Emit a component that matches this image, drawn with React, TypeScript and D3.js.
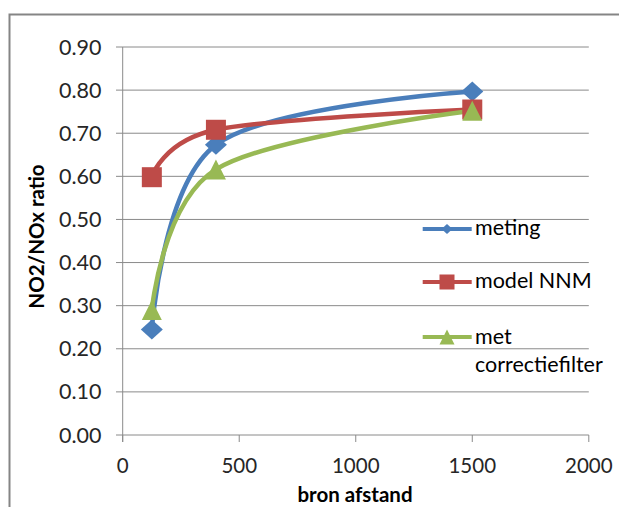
import React from "react";
import * as d3 from "d3";

const xValues = [125, 400, 1500];
const seriesNames = ["meting", "model NNM", "met correctiefilter"];
const metingValues = [0.245, 0.673, 0.797];
const modelValues = [0.598, 0.708, 0.755];
const filterValues = [0.29, 0.616, 0.752];
const yTicks = [0, 0.1, 0.2, 0.3, 0.4, 0.5, 0.6, 0.7, 0.8, 0.9];
const xTicks = [0, 500, 1000, 1500, 2000];

const COLORS = ["#4a7ebb", "#be4b48", "#98b954"];
const FONT = "Lato, 'Noto Sans', sans-serif";

function Marker({ kind, x, y, s, color }: { kind: number; x: number; y: number; s: number; color: string }) {
  if (kind === 0) {
    const w = s * 1.1, h = s;
    return <path d={`M${x - w / 2},${y}L${x},${y - h / 2}L${x + w / 2},${y}L${x},${y + h / 2}Z`} fill={color} />;
  }
  if (kind === 1) {
    return <rect x={x - s / 2} y={y - s / 2} width={s} height={s} fill={color} />;
  }
  return <path d={`M${x - s / 2},${y + s / 2}L${x},${y - s / 2}L${x + s / 2},${y + s / 2}Z`} fill={color} />;
}

export default function App() {
  const x = d3.scaleLinear().domain([0, 2000]).range([122.7, 588.8]);
  const y = d3.scaleLinear().domain([0, 0.9]).range([435, 47]);
  const series = [metingValues, modelValues, filterValues];
  const line = d3
    .line<number>()
    .x((_, i) => x(xValues[i]))
    .y((d) => y(d))
    .curve(d3.curveCardinal.tension(0));
  const grid = "#8a8a8a";
  const legendRows = [229, 282, 337];

  return (
    <svg width={619} height={507} style={{ position: "absolute", left: 0, top: 0 }} fontFamily={FONT}>
      <rect x={0} y={0} width={619} height={507} fill="#fff" />
      <rect x={9.5} y={14.5} width={640} height={520} fill="none" stroke="#858585" strokeWidth={2} />
      {yTicks.map((t) => (
        <g key={t}>
          <line x1={116} x2={588.8} y1={y(t)} y2={y(t)} stroke={grid} strokeWidth={1} />
          <text x={101.5} y={y(t) + 7.5} textAnchor="end" fontSize={21.5} fill="#262626">
            {t.toFixed(2)}
          </text>
        </g>
      ))}
      <line x1={x(0)} x2={x(0)} y1={y(0.9)} y2={442} stroke={grid} strokeWidth={1} />
      {xTicks.map((t) => (
        <g key={t}>
          <line x1={x(t)} x2={x(t)} y1={435} y2={442} stroke={grid} strokeWidth={1} />
          <text x={x(t)} y={473} textAnchor="middle" fontSize={20.5} fill="#262626">
            {t}
          </text>
        </g>
      ))}
      <text x={355} y={502} textAnchor="middle" fontSize={20.5} fontWeight="bold" fill="#000">
        bron afstand
      </text>
      <text
        transform="translate(44,236.5) rotate(-90)"
        textAnchor="middle"
        fontSize={20.5}
        fontWeight="bold"
        fill="#000"
      >
        NO2/NOx ratio
      </text>
      {series.map((vals, si) => (
        <path key={si} d={line(vals) || ""} fill="none" stroke={COLORS[si]} strokeWidth={4.5} />
      ))}
      {series.map((vals, si) =>
        vals.map((v, i) => (
          <Marker key={`${si}-${i}`} kind={si} x={x(xValues[i])} y={y(v)} s={20} color={COLORS[si]} />
        ))
      )}
      {legendRows.map((ry, si) => (
        <g key={si}>
          <line x1={422.7} x2={471.7} y1={ry} y2={ry} stroke={COLORS[si]} strokeWidth={4} />
          <Marker kind={si} x={447} y={ry} s={si === 0 ? 10 : 15} color={COLORS[si]} />
        </g>
      ))}
      <text x={475} y={235} fontSize={21.5} fill="#000">{seriesNames[0]}</text>
      <text x={475} y={288} fontSize={21.5} fill="#000">{seriesNames[1]}</text>
      <text x={475} y={343.5} fontSize={21.5} fill="#000">met</text>
      <text x={475} y={372} fontSize={21.5} fill="#000">correctiefilter</text>
    </svg>
  );
}
